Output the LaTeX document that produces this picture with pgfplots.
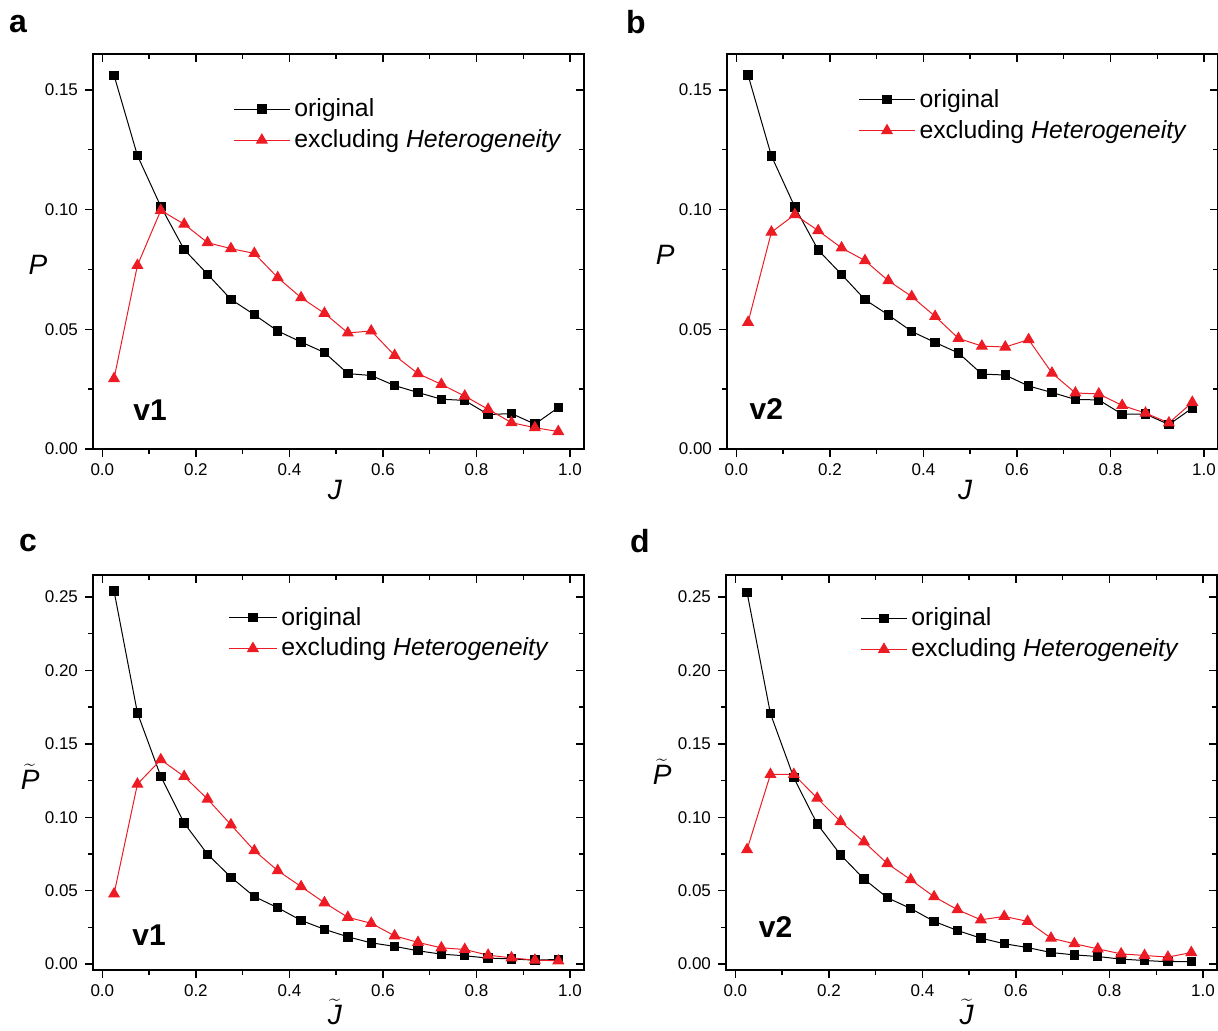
\documentclass[border=0pt]{standalone}
\usepackage{fontspec}
\setmainfont{Liberation Sans}
\usepackage{pgfplots}
\pgfplotsset{compat=1.18}
\usepackage{pgfplotstable}
\definecolor{exred}{RGB}{237,28,36}

% x orig excl
\pgfplotstableread{
x orig excl
0.025 0.1561 0.0294
0.075 0.1226 0.0767
0.125 0.1013 0.0997
0.175 0.0833 0.0939
0.225 0.0730 0.0862
0.275 0.0625 0.0837
0.325 0.0561 0.0817
0.375 0.0493 0.0716
0.425 0.0447 0.0632
0.475 0.0403 0.0567
0.525 0.0315 0.0485
0.575 0.0307 0.0493
0.625 0.0265 0.0391
0.675 0.0236 0.0315
0.725 0.0208 0.0270
0.775 0.0203 0.0221
0.825 0.0144 0.0166
0.875 0.0148 0.0110
0.925 0.0104 0.0089
0.975 0.0173 0.0073
}\dataA
\pgfplotstableread{
x orig excl
0.025 0.1562 0.0529
0.075 0.1224 0.0906
0.125 0.1011 0.0979
0.175 0.0831 0.0912
0.225 0.0729 0.0840
0.275 0.0624 0.0787
0.325 0.0560 0.0703
0.375 0.0491 0.0637
0.425 0.0445 0.0554
0.475 0.0401 0.0462
0.525 0.0313 0.0430
0.575 0.0309 0.0426
0.625 0.0263 0.0457
0.675 0.0236 0.0317
0.725 0.0207 0.0234
0.775 0.0205 0.0230
0.825 0.0145 0.0182
0.875 0.0146 0.0150
0.925 0.0102 0.0109
0.975 0.0171 0.0195
}\dataB
\pgfplotstableread{
x orig excl
0.025 0.2541 0.0478
0.075 0.1711 0.1226
0.125 0.1278 0.1392
0.175 0.0960 0.1278
0.225 0.0748 0.1124
0.275 0.0592 0.0949
0.325 0.0460 0.0773
0.375 0.0384 0.0637
0.425 0.0298 0.0528
0.475 0.0237 0.0418
0.525 0.0186 0.0319
0.575 0.0145 0.0278
0.625 0.0121 0.0193
0.675 0.0091 0.0148
0.725 0.0068 0.0111
0.775 0.0057 0.0100
0.825 0.0041 0.0061
0.875 0.0036 0.0043
0.925 0.0027 0.0027
0.975 0.0032 0.0023
}\dataC
\pgfplotstableread{
x orig excl
0.025 0.2532 0.0780
0.075 0.1706 0.1292
0.125 0.1269 0.1292
0.175 0.0955 0.1130
0.225 0.0744 0.0971
0.275 0.0580 0.0833
0.325 0.0452 0.0685
0.375 0.0379 0.0575
0.425 0.0291 0.0459
0.475 0.0229 0.0371
0.525 0.0177 0.0302
0.575 0.0139 0.0325
0.625 0.0113 0.0291
0.675 0.0079 0.0177
0.725 0.0063 0.0139
0.775 0.0052 0.0104
0.825 0.0034 0.0070
0.875 0.0025 0.0059
0.925 0.0016 0.0048
0.975 0.0018 0.0079
}\dataD

\pgfplotsset{
  pbase/.style={width=245.5pt, height=197.5pt, scale only axis,
    xmin=-0.02, xmax=1.03, xtick={0,0.2,0.4,0.6,0.8,1.0},
    minor x tick num=1, minor y tick num=1, scaled ticks=false,
    axis line style={line width=0.7pt}, tick style={black, line width=0.7pt},
    major tick length=4pt, minor tick length=2.5pt},
  toprow/.style={ymin=0, ymax=0.165, ytick={0,0.05,0.10,0.15}},
  botrow/.style={ymin=-0.004, ymax=0.265, ytick={0,0.05,0.10,0.15,0.20,0.25}},
  sample/.style={legend image code/.code={\draw[mark repeat=2, mark phase=2, ##1]
      plot coordinates {(0pt,0pt) (#1/2,0pt) (#1,0pt)};}},
  pfront/.style={pbase, tick align=outside, xtick pos=left, ytick pos=left,
    /pgf/number format/assume math mode=true,
    tick label style={font=\fontsize{8.5}{10}\selectfont},
    xticklabel style={/pgf/number format/.cd, fixed, fixed zerofill, precision=1},
    yticklabel style={/pgf/number format/.cd, fixed, fixed zerofill, precision=2},
    label style={font=\fontsize{14}{16}\selectfont},
    legend style={draw=none, fill=none, anchor=north west, inner sep=0pt,
      font=\fontsize{12.4}{14}\selectfont, row sep=1pt},
    legend cell align=left, sample=28pt},
  pback/.style={pbase, tick align=inside, xtick pos=right, ytick pos=right,
    xticklabels={}, yticklabels={}},
  origplot/.style={black, line width=0.5pt, mark=square*, mark size=2.1pt, mark options={solid}},
  exclplot/.style={exred, line width=0.5pt, mark=triangle*, mark size=3pt, mark options={solid, fill=exred}},
}

\begin{document}
\begin{tikzpicture}
\useasboundingbox (0,0) rectangle (609pt,515pt);

% a
\begin{axis}[pback, toprow, at={(46.5pt,290.5pt)}, anchor=south west]
\end{axis}
\begin{axis}[pfront, toprow, at={(46.5pt,290.5pt)}, anchor=south west,
  xlabel={\textit{J}}, ylabel={\textit{P}},
  xlabel style={at={(axis description cs:0.493,0)}, anchor=center, yshift=-20.5pt},
  ylabel style={at={(axis description cs:-0.112,0.466)}, anchor=center, rotate=-90},
  legend style={at={(0.285,0.898)}}]
\addplot[origplot] table[x=x, y=orig] {\dataA};
\addplot[exclplot] table[x=x, y=excl] {\dataA};
\legend{original, excluding \textit{Heterogeneity}}
\node[font=\bfseries\fontsize{15}{17}\selectfont] at (axis cs:0.102,0.0162) {v1};
\end{axis}

% b
\begin{axis}[pback, toprow, at={(363.5pt,290.5pt)}, anchor=south west]
\end{axis}
\begin{axis}[pfront, toprow, at={(363.5pt,290.5pt)}, anchor=south west,
  xlabel={\textit{J}}, ylabel={\textit{P}},
  xlabel style={at={(axis description cs:0.485,0)}, anchor=center, yshift=-20.5pt},
  ylabel style={at={(axis description cs:-0.126,0.491)}, anchor=center, rotate=-90},
  legend style={at={(0.267,0.922)}}]
\addplot[origplot] table[x=x, y=orig] {\dataB};
\addplot[exclplot] table[x=x, y=excl] {\dataB};
\legend{original, excluding \textit{Heterogeneity}}
\node[font=\bfseries\fontsize{15}{17}\selectfont] at (axis cs:0.064,0.0166) {v2};
\end{axis}

% c
\begin{axis}[pback, botrow, at={(46.5pt,30pt)}, anchor=south west]
\end{axis}
\begin{axis}[pfront, botrow, at={(46.5pt,30pt)}, anchor=south west, sample=24pt,
  xlabel={$\widetilde{\mbox{\textit{J}}}$}, ylabel={$\widetilde{\mbox{\textit{P}}}$},
  xlabel style={at={(axis description cs:0.493,0)}, anchor=center, yshift=-21pt},
  ylabel style={at={(axis description cs:-0.128,0.49)}, anchor=center, rotate=-90},
  legend style={at={(0.275,0.93)}}]
\addplot[origplot] table[x=x, y=orig] {\dataC};
\addplot[exclplot] table[x=x, y=excl] {\dataC};
\legend{original, excluding \textit{Heterogeneity}}
\node[font=\bfseries\fontsize{15}{17}\selectfont] at (axis cs:0.10,0.0198) {v1};
\end{axis}

% d
\begin{axis}[pback, botrow, at={(363pt,30pt)}, anchor=south west]
\end{axis}
\begin{axis}[pfront, botrow, at={(363pt,30pt)}, anchor=south west, sample=23pt,
  xlabel={$\widetilde{\mbox{\textit{J}}}$}, ylabel={$\widetilde{\mbox{\textit{P}}}$},
  xlabel style={at={(axis description cs:0.49,0)}, anchor=center, yshift=-21pt},
  ylabel style={at={(axis description cs:-0.130,0.502)}, anchor=center, rotate=-90},
  legend style={at={(0.273,0.928)}}]
\addplot[origplot] table[x=x, y=orig] {\dataD};
\addplot[exclplot] table[x=x, y=excl] {\dataD};
\legend{original, excluding \textit{Heterogeneity}}
\node[font=\bfseries\fontsize{15}{17}\selectfont] at (axis cs:0.086,0.0255) {v2};
\end{axis}

\node[font=\bfseries\fontsize{16}{18}\selectfont] at (9pt,503pt) {a};
\node[font=\bfseries\fontsize{16}{18}\selectfont] at (318pt,504pt) {b};
\node[font=\bfseries\fontsize{16}{18}\selectfont] at (14pt,243.5pt) {c};
\node[font=\bfseries\fontsize{16}{18}\selectfont] at (320pt,244.5pt) {d};
\end{tikzpicture}
\end{document}
